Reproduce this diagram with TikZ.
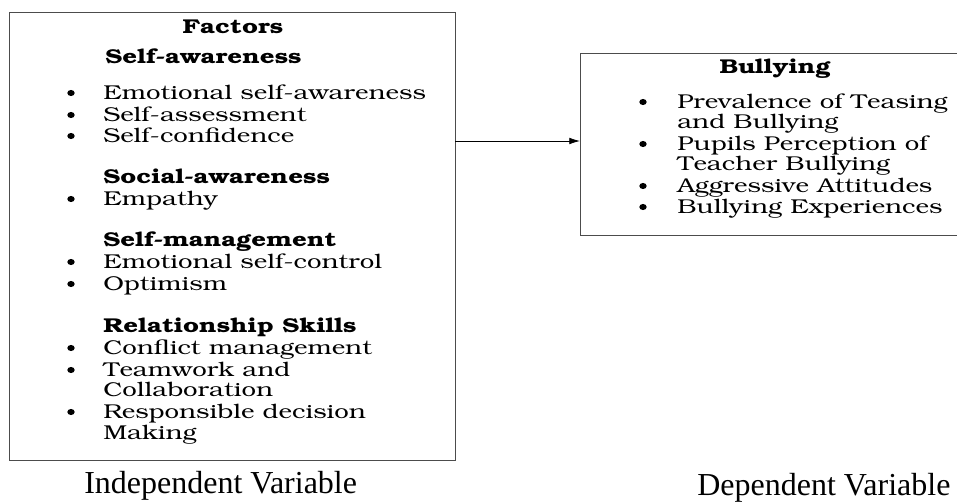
\documentclass[tikz,border=0pt]{standalone}
\usepackage[T1]{fontenc}
\usepackage{fontspec}
\setmainfont{Liberation Serif}
\usetikzlibrary{arrows.meta}

\newcommand{\bkfont}{\fontencoding{T1}\fontfamily{pbk}\selectfont}
% widened Bookman lines
\newcommand{\wtext}[1]{\scalebox{1.29}[1]{#1}}

\tikzset{
	box/.style={draw=black!70, line width=1.1pt, anchor=north west, inner sep=0pt},
	entry/.style={anchor=base west, inner sep=0pt, font=\bkfont\fontsize{15}{16}\selectfont},
	head/.style={entry, font=\bkfont\bfseries\fontsize{15}{16}\selectfont},
	caption/.style={anchor=base west, inner sep=0pt, font=\fontsize{24}{28}\selectfont},
}

\begin{document}
\begin{tikzpicture}[x=0.75pt, y=-0.75pt]

	\useasboundingbox (0,0) rectangle (957,501);

	%the two variable boxes
	\node[box, minimum width=334.5pt, minimum height=336pt] (factors) at (9,12) {};
	\node[box, minimum width=285pt, minimum height=136.5pt] (bullying) at (580,53) {};

	%independent side
	\node[head, anchor=base] (ftitle) at (233,33) {\wtext{Factors}};
	\node[head] (selfaw) at (105,63) {\wtext{Self-awareness}};
	\node[entry] (emoaw) at (103,99) {\wtext{Emotional self-awareness}};
	\node[entry] (assess) at (103,121) {\wtext{Self-assessment}};
	\node[entry] (confid) at (103,142) {\wtext{Self-confidence}};
	\node[head] (socaw) at (103,183) {\wtext{Social-awareness}};
	\node[entry] (empathy) at (103,205) {\wtext{Empathy}};
	\node[head] (selfman) at (103,246) {\wtext{Self-management}};
	\node[entry] (control) at (103,268) {\wtext{Emotional self-control}};
	\node[entry] (optim) at (103,290) {\wtext{Optimism}};
	\node[head] (relskill) at (103,332) {\wtext{Relationship Skills}};
	\node[entry] (conflict) at (103,354) {\wtext{Conflict management}};
	\node[entry] (team) at (103,376) {\wtext{Teamwork and}};
	\node[entry] (team2) at (103,396) {\wtext{Collaboration}};
	\node[entry] (respons) at (103,418) {\wtext{Responsible decision}};
	\node[entry] (respons2) at (103,439) {\wtext{Making}};
	\foreach \y in {99,121,142,205,268,290,354,376,418}
		\fill (71,\y-6) ellipse (2.8pt and 2.3pt);

	%dependent side
	\node[head, anchor=base] (btitle) at (775,73) {\wtext{Bullying}};
	\node[entry] (preval) at (677,108) {\wtext{Prevalence of Teasing}};
	\node[entry] (preval2) at (677,128) {\wtext{and Bullying}};
	\node[entry] (percep) at (677,150) {\wtext{Pupils Perception of}};
	\node[entry] (percep2) at (677,170) {\wtext{Teacher Bullying}};
	\node[entry] (aggr) at (677,192) {\wtext{Aggressive Attitudes}};
	\node[entry] (exper) at (677,213) {\wtext{Bullying Experiences}};
	\foreach \y in {108,150,192,213}
		\fill (643,\y-6) ellipse (2.8pt and 2.3pt);

	%link between the boxes
	\coordinate (start) at (455,141);
	\draw[black, line width=0.6pt, -{Latex[length=8pt, width=5pt]}] (start) -- (start -| bullying.west);

	\node[caption] (indep) at (84,493) {Independent Variable};
	\node[caption] (dep) at (697,495) {Dependent Variable};

\end{tikzpicture}
\end{document}
